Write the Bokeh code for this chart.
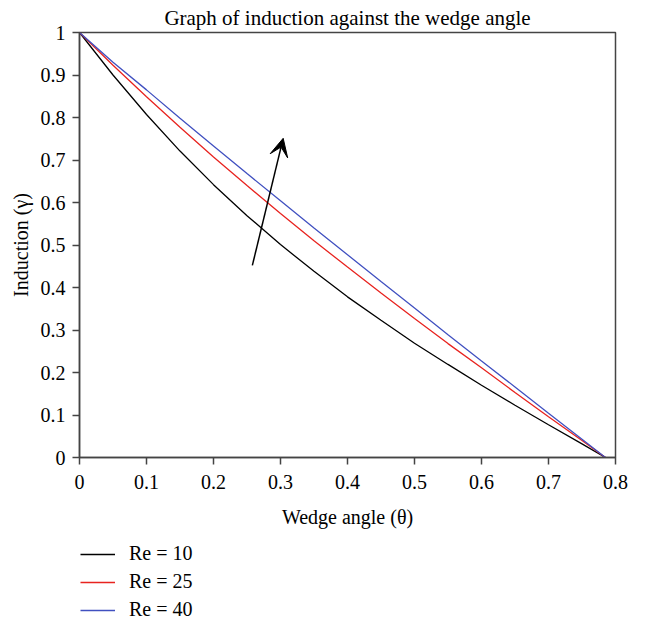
from bokeh.plotting import figure
from bokeh.layouts import column
from bokeh.models import Arrow, VeeHead, Legend, LegendItem, FixedTicker, Title
from bokeh.embed import file_html
from bokeh.resources import INLINE

# ---- data ----
theta = [0.0, 0.05, 0.10, 0.15, 0.20, 0.25, 0.30, 0.35, 0.40, 0.45,
         0.50, 0.55, 0.60, 0.65, 0.70, 0.75, 0.785]
induction_re10 = [1.0, 0.900, 0.807, 0.721, 0.642, 0.569, 0.501, 0.438, 0.378,
                  0.323, 0.269, 0.219, 0.170, 0.123, 0.077, 0.032, 0.0]
induction_re25 = [1.0, 0.923, 0.849, 0.777, 0.707, 0.640, 0.574, 0.510, 0.448,
                  0.387, 0.327, 0.268, 0.211, 0.153, 0.096, 0.040, 0.0]
induction_re40 = [1.0, 0.930, 0.865, 0.798, 0.733, 0.668, 0.604, 0.540, 0.477,
                  0.414, 0.352, 0.289, 0.227, 0.166, 0.104, 0.043, 0.0]
series_labels = ["Re = 10", "Re = 25", "Re = 40"]

x_ticks = [0, 0.1, 0.2, 0.3, 0.4, 0.5, 0.6, 0.7, 0.8]
x_tick_labels = ["0", "0.1", "0.2", "0.3", "0.4", "0.5", "0.6", "0.7", "0.8"]
y_ticks = [0, 0.1, 0.2, 0.3, 0.4, 0.5, 0.6, 0.7, 0.8, 0.9, 1]
y_tick_labels = ["0", "0.1", "0.2", "0.3", "0.4", "0.5", "0.6", "0.7", "0.8", "0.9", "1"]

arrow_from = (0.258, 0.452)
arrow_to = (0.304, 0.751)

FONT = "Liberation Serif"
AX = "#444444"
colors = ["#000000", "#e8231f", "#4050c0"]
series = [induction_re10, induction_re25, induction_re40]

# ---------------- main chart ----------------
p = figure(width=631, height=540, x_range=(0, 0.8), y_range=(0, 1),
           output_backend="svg", toolbar_location=None,
           min_border_left=79, min_border_right=16, min_border_top=32,
           min_border_bottom=83)

p.title.text = "Graph of induction against the wedge angle"
p.title.align = "center"
p.title.text_font = FONT
p.title.text_font_size = "21px"
p.title.text_font_style = "normal"
p.title.text_color = "black"
p.title.standoff = 6

p.xgrid.visible = False
p.ygrid.visible = False
p.outline_line_color = AX
p.outline_line_width = 1.5
p.outline_line_alpha = 1

p.xaxis.ticker = FixedTicker(ticks=x_ticks)
p.xaxis.major_label_overrides = {t: l for t, l in zip(x_ticks, x_tick_labels)}
p.yaxis.ticker = FixedTicker(ticks=y_ticks)
p.yaxis.major_label_overrides = {t: l for t, l in zip(y_ticks, y_tick_labels)}

p.xaxis.axis_label = "Wedge angle (θ)"

for ax in (p.xaxis[0], p.yaxis[0]):
    ax.axis_line_color = AX
    ax.axis_line_width = 1.5
    ax.major_tick_line_color = AX
    ax.major_tick_line_width = 1.5
    ax.major_tick_out = 7
    ax.major_tick_in = 0
    ax.minor_tick_line_color = None
    ax.major_label_text_font = FONT
    ax.major_label_text_font_size = "20px"
    ax.major_label_text_color = "black"
    ax.axis_label_text_font = FONT
    ax.axis_label_text_font_size = "20px"
    ax.axis_label_text_font_style = "normal"
    ax.axis_label_text_color = "black"

p.xaxis.major_label_standoff = 10
p.xaxis.axis_label_standoff = 14
p.yaxis.major_label_standoff = 7

# y-axis title
p.add_layout(Title(text="Induction (γ)", align="center", offset=-3, standoff=12,
                   text_font=FONT, text_font_size="20px", text_font_style="normal",
                   text_color="black"), "left")

for ys, c in zip(series, colors):
    p.line(theta, ys, line_color=c, line_width=1.3)

p.add_layout(Arrow(x_start=arrow_from[0], y_start=arrow_from[1],
                   x_end=arrow_to[0], y_end=arrow_to[1],
                   line_color="black", line_width=1.5,
                   end=VeeHead(size=18, fill_color="black", line_color="black")))

# ---------------- legend strip below the chart ----------------
q = figure(width=631, height=81, x_range=(0, 1), y_range=(0, 1),
           output_backend="svg", toolbar_location=None,
           x_axis_location=None, y_axis_location=None,
           min_border_left=0, min_border_right=0, min_border_top=0,
           min_border_bottom=0)
q.xgrid.visible = False
q.ygrid.visible = False
q.outline_line_color = None

legend_renderers = []
for ys, c in zip(series, colors):
    legend_renderers.append(q.line(theta, ys, line_color=c, line_width=1.3, visible=False))

legend = Legend(items=[LegendItem(label=l, renderers=[r])
                       for l, r in zip(series_labels, legend_renderers)],
                location=(1, 0), orientation="vertical",
                glyph_width=35, glyph_height=20, label_standoff=14,
                label_height=20, spacing=5, padding=0, margin=0,
                border_line_alpha=0, background_fill_alpha=0,
                label_text_font=FONT, label_text_font_size="20px",
                label_text_color="black", click_policy="none")
q.add_layout(legend, "center")

layout = column(p, q)
open("out.html", "w").write(file_html(layout, INLINE))
